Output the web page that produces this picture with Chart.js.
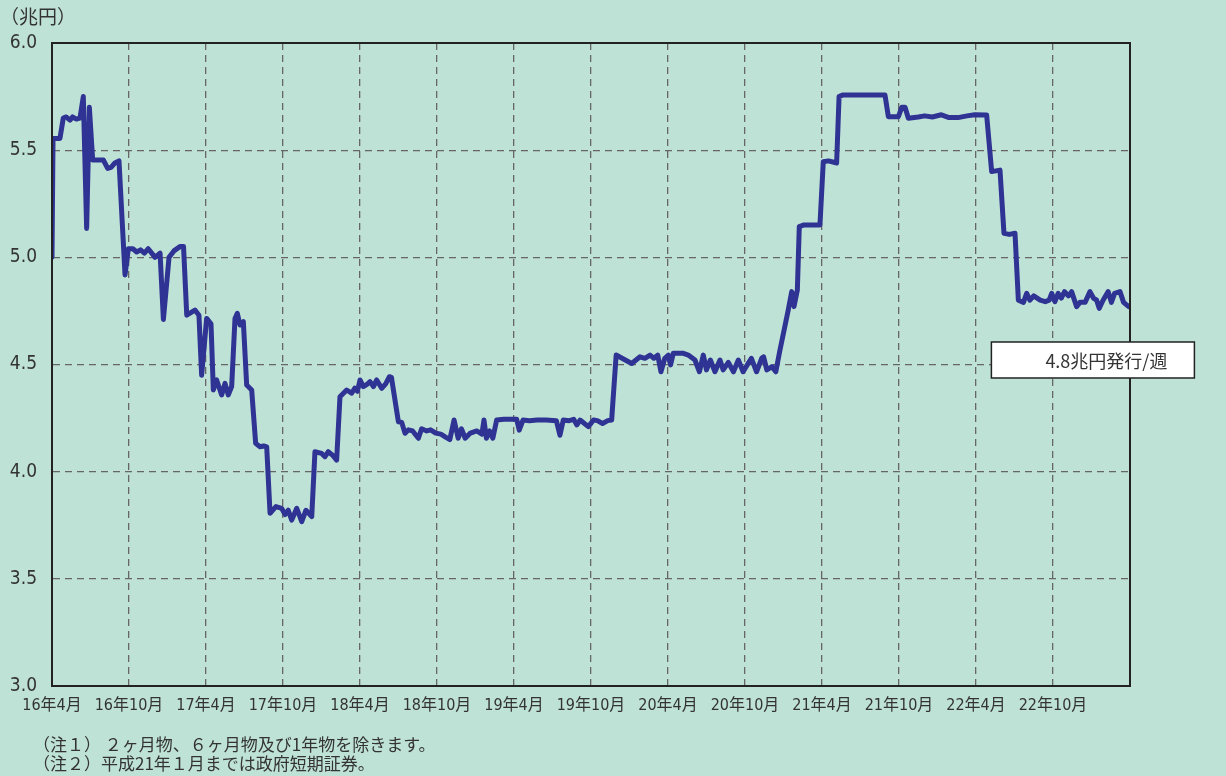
<!DOCTYPE html>
<html>
<head>
<meta charset="utf-8">
<script src="https://cdn.jsdelivr.net/npm/chart.js@4.4.1/dist/chart.umd.min.js"></script>
<style>
  html, body { margin: 0; padding: 0; background: #bfe2d6; }
  #wrap { width: 1226px; height: 776px; position: relative; }
</style>
</head>
<body>
<div id="wrap"><canvas id="issueChart" width="1226" height="776"></canvas></div>
<script>
// 月数 (16年4月 = 0) と 発行額 (兆円/週)
const months = [
  0.00, 0.08, 0.62, 0.88, 1.1, 1.4, 1.6, 1.9, 2.18, 2.44, 2.70, 2.91, 3.17, 4.0, 4.34, 4.6, 4.9, 5.22,
  5.69, 5.95, 6.3, 6.6, 6.9, 7.2, 7.5, 8.03, 8.42, 8.68, 9.12, 9.5, 9.97, 10.25, 10.5, 11.14, 11.45,
  11.66, 12.05, 12.39, 12.57, 12.83, 13.22, 13.48, 13.74, 14.0, 14.26, 14.44, 14.65, 14.91, 15.17,
  15.56, 15.87, 16.21, 16.5, 16.73, 16.99, 17.45, 17.9, 18.16, 18.41, 18.68, 19.07, 19.46, 19.79,
  20.24, 20.49, 21.01, 21.27, 21.53, 21.9, 22.18, 22.44, 22.96, 23.35, 23.6, 23.8, 24.0, 24.26, 24.6,
  24.78, 25.05, 25.3, 25.69, 26.0, 26.29, 26.45, 26.99, 27.25, 27.51, 27.77, 28.1, 28.55, 28.8, 29.2,
  29.5, 29.9, 30.3, 30.7, 31.0, 31.33, 31.65, 31.9, 32.2, 32.6, 33.1, 33.5, 33.66, 33.85, 34.1, 34.35,
  34.65, 35.2, 36.21, 36.41, 36.7, 37.2, 37.8, 38.5, 39.3, 39.58, 39.84, 40.3, 40.65, 40.9, 41.15,
  41.79, 42.2, 42.5, 42.9, 43.3, 43.61, 43.96, 45.17, 45.82, 46.2, 46.6, 46.9, 47.2, 47.45, 47.75,
  48.03, 48.2, 48.41, 49.2, 49.58, 50.1, 50.45, 50.75, 51.0, 51.3, 51.66, 52.05, 52.3, 52.7, 53.1,
  53.48, 53.85, 54.25, 54.5, 54.9, 55.3, 55.45, 55.7, 56.1, 56.4, 56.7, 57.37, 57.64, 57.82, 58.08,
  58.23, 58.6, 59.84, 60.1, 60.5, 61.14, 61.33, 61.6, 64.91, 65.17, 65.95, 66.21, 66.47, 66.73, 67.5,
  68.0, 68.6, 69.3, 69.9, 70.6, 71.3, 71.9, 72.83, 73.22, 73.87, 74.18, 74.6, 75.04, 75.3, 75.7,
  75.95, 76.2, 76.5, 77.0, 77.4, 77.7, 77.9, 78.15, 78.4, 78.65, 78.9, 79.2, 79.45, 79.84, 80.1, 80.5,
  80.88, 81.15, 81.4, 81.6, 81.9, 82.3, 82.55, 82.8, 83.22, 83.5, 83.9
];
const amounts = [
  5.00, 5.555, 5.555, 5.65, 5.655, 5.64, 5.655, 5.645, 5.65, 5.75, 5.135, 5.70, 5.454, 5.454, 5.415, 5.42, 5.44, 5.45,
  4.918, 5.04, 5.04, 5.025, 5.035, 5.02, 5.04, 5.00, 5.02, 4.71, 5.00, 5.03, 5.05, 5.05, 4.73, 4.754, 4.73,
  4.45, 4.715, 4.69, 4.381, 4.428, 4.358, 4.412, 4.358, 4.397, 4.715, 4.739, 4.684, 4.70, 4.404,
  4.381, 4.132, 4.116, 4.12, 4.116, 3.806, 3.837, 3.829, 3.80, 3.82, 3.774, 3.829, 3.767, 3.82,
  3.79, 4.093, 4.085, 4.07, 4.093, 4.075, 4.054, 4.35, 4.381, 4.366, 4.39, 4.375, 4.428, 4.397, 4.41,
  4.42, 4.397, 4.428, 4.389, 4.41, 4.443, 4.44, 4.233, 4.23, 4.179, 4.195, 4.19, 4.156, 4.20, 4.19,
  4.195, 4.18, 4.175, 4.16, 4.15, 4.241, 4.156, 4.20, 4.156, 4.18, 4.19, 4.175, 4.241, 4.156, 4.19, 4.156,
  4.241, 4.245, 4.244, 4.194, 4.241, 4.238, 4.241, 4.241, 4.238, 4.17, 4.241, 4.238, 4.244, 4.218, 4.241,
  4.21, 4.241, 4.238, 4.225, 4.238, 4.241, 4.544, 4.505, 4.536, 4.529, 4.544, 4.529, 4.544, 4.466, 4.529,
  4.544, 4.498, 4.552, 4.552, 4.544, 4.521, 4.466, 4.544, 4.475, 4.521, 4.466, 4.521, 4.475, 4.51, 4.466,
  4.521, 4.466, 4.505, 4.529, 4.466, 4.529, 4.536, 4.475, 4.49, 4.466, 4.56, 4.754, 4.84, 4.77, 4.848,
  5.143, 5.151, 5.151, 5.446, 5.45, 5.44, 5.75, 5.757, 5.757, 5.656, 5.656, 5.70, 5.70, 5.649, 5.655,
  5.66, 5.655, 5.665, 5.652, 5.652, 5.66, 5.665, 5.664, 5.40, 5.407, 5.112, 5.107, 5.112, 4.80, 4.79,
  4.832, 4.80, 4.82, 4.80, 4.793, 4.80, 4.832, 4.793, 4.832, 4.81, 4.84, 4.82, 4.84, 4.77, 4.79, 4.79,
  4.84, 4.81, 4.80, 4.762, 4.80, 4.84, 4.79, 4.832, 4.84, 4.79, 4.77
];
const xTickLabels = ['16年4月', '16年10月', '17年4月', '17年10月', '18年4月', '18年10月', '19年4月',
  '19年10月', '20年4月', '20年10月', '21年4月', '21年10月', '22年4月', '22年10月'];
const yTickLabels = ['3.0', '3.5', '4.0', '4.5', '5.0', '5.5', '6.0'];
const unitLabel = '（兆円）';
const boxLabel = '4.8兆円発行/週';
const notes = ['（注１） ２ヶ月物、６ヶ月物及び1年物を除きます。', '（注２）平成21年１月までは政府短期証券。'];

const FONT = '"Liberation Sans Narrow", "DejaVu Sans Condensed", "Noto Sans CJK JP", sans-serif';
const CJK = '"Noto Sans CJK JP", sans-serif';

const points = months.map((m, i) => ({ x: m, y: amounts[i] }));

const extras = {
  id: 'extras',
  afterDraw(chart) {
    const { ctx, chartArea: a, scales } = chart;
    ctx.save();
    // 枠
    ctx.strokeStyle = '#222';
    ctx.lineWidth = 2;
    ctx.strokeRect(a.left, a.top, a.right - a.left, a.bottom - a.top);
    // 単位
    ctx.fillStyle = '#333';
    ctx.font = '19px ' + CJK;
    ctx.textBaseline = 'middle';
    ctx.textAlign = 'left';
    ctx.fillText(unitLabel, 0, 17);
    // 注
    ctx.font = '17px ' + CJK;
    ctx.fillText(notes[0], 33, 745);
    ctx.fillText(notes[1], 33, 764);
    // ラベル枠
    const bx = scales.x.getPixelForValue(73.2);
    const by = scales.y.getPixelForValue(4.605);
    ctx.fillStyle = '#fff';
    ctx.fillRect(bx, by, 203, 36);
    ctx.lineWidth = 1.5;
    ctx.strokeStyle = '#222';
    ctx.strokeRect(bx, by, 203, 36);
    ctx.fillStyle = '#333';
    ctx.font = '18px ' + CJK;
    ctx.textAlign = 'center';
    ctx.fillText(boxLabel, bx + 115, by + 19);
    ctx.restore();
  }
};

new Chart(document.getElementById('issueChart'), {
  type: 'line',
  data: {
    datasets: [{
      data: points,
      borderColor: '#2f3393',
      borderWidth: 5,
      borderJoinStyle: 'round',
      borderCapStyle: 'round',
      pointRadius: 0,
      tension: 0,
      fill: false
    }]
  },
  options: {
    responsive: false,
    animation: false,
    events: [],
    layout: { padding: { top: 43, right: 96, left: 0, bottom: 0 } },
    plugins: {
      legend: { display: false },
      tooltip: { enabled: false }
    },
    scales: {
      x: {
        type: 'linear',
        min: 0,
        max: 84,
        afterFit: s => { s.height = 90; },
        ticks: {
          stepSize: 6,
          autoSkip: false,
          maxRotation: 0,
          padding: 10,
          color: '#333',
          font: { family: FONT, size: 16 },
          callback: v => xTickLabels[v / 6] || ''
        },
        grid: { color: '#666', lineWidth: 1.3, drawTicks: false },
        border: { display: true, color: '#222', width: 2, dash: [7, 5] }
      },
      y: {
        min: 3,
        max: 6,
        afterFit: s => { s.width = 52; },
        ticks: {
          stepSize: 0.5,
          padding: 15,
          color: '#333',
          font: { family: FONT, size: 19 },
          callback: v => yTickLabels[Math.round((v - 3) * 2)]
        },
        grid: { color: '#666', lineWidth: 1.3, drawTicks: false },
        border: { display: true, color: '#222', width: 2, dash: [7, 5] }
      }
    }
  },
  plugins: [extras]
});
</script>
</body>
</html>
